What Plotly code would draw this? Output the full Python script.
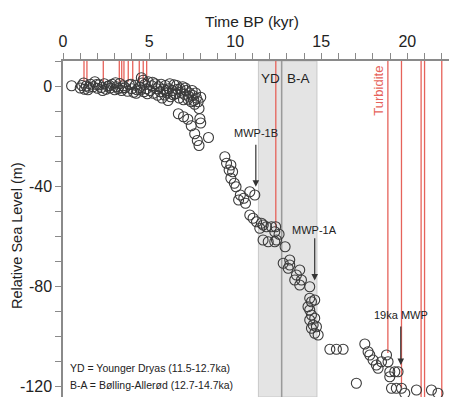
import plotly.graph_objects as go

# ---- data ----
age_kyr = [0.5, 1.0, 1.1, 1.25, 1.35, 1.5, 1.6, 1.75, 1.85, 2.0, 2.1, 2.25, 2.4, 2.5, 2.6, 2.75, 2.85,
           3.0, 3.1, 3.2, 3.3, 3.4, 3.5, 3.6, 3.75, 3.85, 4.0, 4.1, 4.2, 4.3, 4.45, 4.55, 4.6, 4.7,
           4.75, 4.85, 4.95, 5.05, 5.15, 5.25, 5.35, 5.45, 5.55, 5.65, 5.75, 5.85, 5.95, 6.05, 6.15,
           6.25, 6.35, 6.45, 6.55, 6.65, 6.75, 6.85, 6.95, 7.05, 7.15, 7.25, 7.35, 7.45, 7.55, 7.65,
           7.75, 7.9, 8.0,
           1.2, 1.45, 1.95, 2.3, 2.7, 3.05, 3.45, 3.95, 4.25, 4.5, 4.65, 4.9, 5.2, 5.5, 5.7, 6.0,
           6.2, 6.4, 6.6, 6.8, 7.0, 7.1, 7.3, 7.5, 7.6, 7.7, 7.85, 5.9, 6.1,
           6.7, 7.0, 7.25, 7.45, 7.65, 7.8, 7.9, 7.95, 8.0, 8.45,
           9.4, 9.5, 9.75, 9.65, 9.85, 9.75, 9.95, 10.05,
           10.3, 10.5, 10.2, 10.85, 11.14, 10.6,
           10.85, 11.04, 11.24, 11.53, 11.43, 11.82, 12.11, 12.3, 11.62, 11.92, 12.4, 12.55, 12.3, 12.9,
           11.63, 12.35,
           12.79, 13.17, 13.17, 13.08, 13.75, 13.56, 13.46, 13.85, 13.75, 14.33,
           14.33, 14.43, 14.62, 14.23, 14.33, 14.43, 14.33, 14.62, 14.53, 14.43, 14.72, 14.62, 14.82,
           15.5, 15.88, 16.27, 17.53, 17.72, 17.82, 18.01, 18.2, 18.3, 18.5, 18.79, 18.88, 18.98,
           19.27, 18.98, 19.46, 17.04, 19.08, 19.36, 19.66, 19.85, 20.53, 21.4, 21.78]
rsl_m = [0.4, -0.5, 0.5, -1.0, 0.3, -0.2, 1.0, 0.0, 2.0, -0.6, 0.8, -0.3, 1.2, -1.0, 0.2, -0.5, 1.0,
         -1.2, 0.0, -0.7, 1.3, -1.5, 0.4, -0.4, -1.8, 0.8, -0.8, -2.2, 0.6, -1.2, -0.3, 3.6, 1.5, -2.0,
         0.9, -0.8, 2.0, -1.5, 0.4, -2.6, 1.2, -0.8, 0.0, -2.0, -4.5, -1.0, 0.5, -2.5, -0.8,
         -4.0, -1.5, 0.8, -2.8, -1.0, -4.5, -2.2, 0.0, -3.0, -1.5, -5.0, -2.5, -6.0, -3.5, -7.0,
         -4.5, -8.7, -4.2,
         1.5, -1.2, 0.9, -1.5, 0.5, 1.6, -0.5, 1.0, -2.6, -1.3, 2.6, -2.8, 1.8, -3.4, 1.0, -1.5,
         1.2, -3.2, 0.5, -0.8, -5.2, -0.5, -3.8, -1.5, -5.5, -2.5, -6.0, -3.3, -5.5,
         -10.8, -12.0, -13.0, -15.6, -18.8, -21.5, -23.5, -12.8, -14.5, -20.3,
         -28.0, -30.6, -31.3, -33.3, -34.0, -36.6, -38.6, -40.0,
         -43.3, -44.6, -45.3, -42.0, -43.3, -46.6,
         -51.3, -52.6, -54.0, -54.6, -56.6, -56.0, -56.0, -58.0, -61.3, -62.0, -61.3, -59.0, -62.0, -64.0,
         -55.3, -56.0,
         -70.6, -69.3, -71.3, -72.6, -73.3, -75.3, -77.3, -77.3, -79.3, -80.0,
         -84.6, -86.0, -85.3, -88.0, -89.3, -91.3, -93.3, -92.6, -95.3, -96.6, -96.0, -98.6, -99.3,
         -105.0, -105.0, -105.0, -102.9, -106.0, -107.3, -109.3, -111.3, -112.6, -110.0, -107.3, -110.0, -114.0,
         -114.0, -116.0, -114.0, -118.6, -120.6, -120.6, -120.6, -122.6, -121.3, -121.3, -122.6]

# red (dated event / turbidite) lines: age and lower end (m)
red_x = [1.22, 1.39, 2.34, 3.27, 3.41, 3.54, 3.79, 4.05, 4.43, 4.66, 4.86, 12.36,
         18.87, 19.66, 20.8, 21.0, 22.0]
red_bottom = [2.0, 2.0, 2.0, 2.0, 2.0, 2.0, 2.0, 2.0, 2.0, 2.0, 2.0, -56.5,
              -106.5, -120.5, -125, -125, -125]

periods = [("YD", 11.35, 12.7), ("B-A", 12.7, 14.75)]

arrow_labels = ["MWP-1B", "MWP-1A", "19ka MWP"]
arrow_x = [11.2, 14.62, 19.62]
arrow_top = [-22.6, -60.0, -95.3]
arrow_tip = [-40.0, -77.5, -111.3]
label_y = [-18.6, -57.3, -91.3]

x_range = [0, 22.42]
y_range = [-124.1, 10.3]

FONT = "Liberation Sans, Arial, sans-serif"
RED = "#e6625a"

fig = go.Figure()

shapes = []
for name, a, b in periods:
    shapes.append(dict(type="rect", xref="x", yref="y", x0=a, x1=b, y0=y_range[0], y1=y_range[1],
                       fillcolor="#e4e4e4", line=dict(color="#c8c8c8", width=1), layer="below"))
shapes.append(dict(type="line", xref="x", yref="y", x0=periods[0][2], x1=periods[0][2],
                   y0=y_range[0], y1=y_range[1], line=dict(color="#9a9a9a", width=1.5), layer="below"))
for xv, yb in zip(red_x, red_bottom):
    shapes.append(dict(type="line", xref="x", yref="y", x0=xv, x1=xv, y0=yb, y1=y_range[1],
                       line=dict(color=RED, width=1.3), layer="below"))

fig.add_trace(go.Scatter(x=age_kyr, y=rsl_m, mode="markers",
                         marker=dict(symbol="circle-open", size=10, color="#3a3a3a",
                                     line=dict(width=1.1, color="#3a3a3a")),
                         showlegend=False, hoverinfo="skip"))

annotations = []
for lab, xv, yt, ytip, ly in zip(arrow_labels, arrow_x, arrow_top, arrow_tip, label_y):
    annotations.append(dict(x=xv, y=ytip, ax=xv, ay=yt, xref="x", yref="y", axref="x", ayref="y",
                            text="", showarrow=True, arrowhead=2, arrowsize=1.1, arrowwidth=1.2,
                            arrowcolor="#333"))
    annotations.append(dict(x=xv, y=ly, xref="x", yref="y", text=lab, showarrow=False,
                            font=dict(family=FONT, size=11, color="#222")))
for name, a, b in periods:
    annotations.append(dict(x=(a + b) / 2 + (0.05 if name == "YD" else -0.05), y=3.5, xref="x", yref="y",
                            text=name, showarrow=False, font=dict(family=FONT, size=13.5, color="#222")))
annotations.append(dict(x=18.28, y=-1.7, xref="x", yref="y", text="Turbidite", textangle=-90,
                        xanchor="center", yanchor="middle",
                        showarrow=False, font=dict(family=FONT, size=13, color=RED)))
annotations.append(dict(x=0.3, y=-112.5, xref="x", yref="y", xanchor="left",
                        text="YD = Younger Dryas (11.5-12.7ka)", showarrow=False,
                        font=dict(family=FONT, size=10.5, color="#222")))
annotations.append(dict(x=0.3, y=-119.3, xref="x", yref="y", xanchor="left",
                        text="B-A = Bølling-Allerød (12.7-14.7ka)", showarrow=False,
                        font=dict(family=FONT, size=10.5, color="#222")))
annotations.append(dict(x=(17 - 63) / 386, y=(397 - 236) / 336, xref="paper", yref="paper",
                        xanchor="center", yanchor="middle", text="Relative Sea Level (m)",
                        textangle=-90, showarrow=False, font=dict(family=FONT, size=14.5, color="#222")))
annotations.append(dict(x=(252 - 63) / 386, y=(397 - 22) / 336, xref="paper", yref="paper",
                        xanchor="center", yanchor="middle", text="Time BP (kyr)",
                        showarrow=False, font=dict(family=FONT, size=15.5, color="#222")))

fig.update_layout(
    width=449, height=397,
    margin=dict(l=63, r=0, t=61, b=0, autoexpand=False),
    plot_bgcolor="white", paper_bgcolor="white",
    shapes=shapes, annotations=annotations,
    font=dict(family=FONT, color="#222"),
    xaxis=dict(side="top", range=x_range, showgrid=False, zeroline=False,
               showline=True, linecolor="#8a8a8a", linewidth=1.5,
               ticks="outside", ticklen=6, tickcolor="#8a8a8a", tickwidth=1.3,
               dtick=5, tick0=0, tickfont=dict(size=16, family=FONT),
               minor=dict(dtick=1, ticks="outside", ticklen=6, tickcolor="#8a8a8a", tickwidth=1.3)),
    yaxis=dict(range=y_range, showgrid=False, zeroline=False,
               showline=True, linecolor="#8a8a8a", linewidth=1.5,
               ticks="outside", ticklen=6, tickcolor="#8a8a8a", tickwidth=1.3,
               tickvals=[0, -40, -80, -120], ticktext=["0", "-40", "-80", "-120"],
               tickfont=dict(size=16, family=FONT),
               minor=dict(dtick=10, tick0=0, ticks="outside", ticklen=6, tickcolor="#8a8a8a", tickwidth=1.3)),
)

fig.write_html("out.html")
